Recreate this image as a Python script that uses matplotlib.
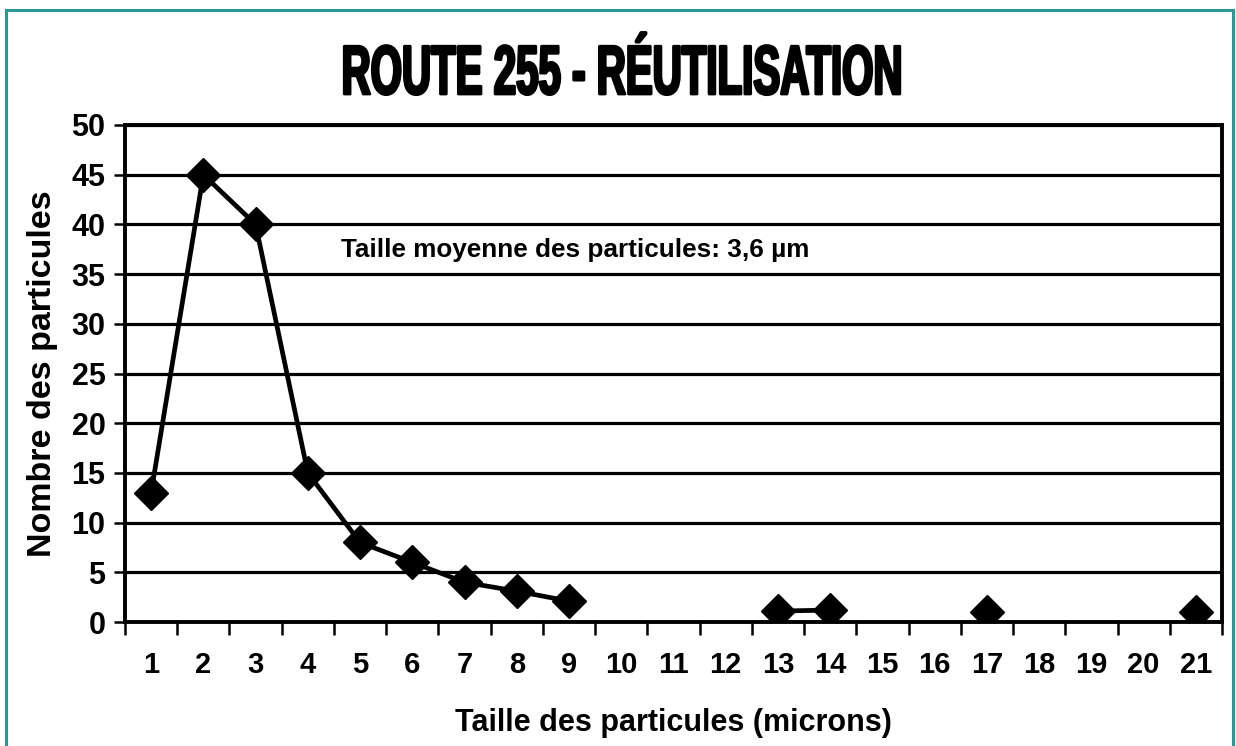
import numpy as np
import matplotlib
matplotlib.use("Agg")
from matplotlib import pyplot as plt
from matplotlib import patheffects
from matplotlib.patches import Rectangle
from matplotlib.transforms import Affine2D

# data
sizes = list(range(1, 22))
counts = [13, 45, 40, 15, 8, 6, 4.0, 3.1, 2.1, np.nan, np.nan, np.nan,
          1.1, 1.2, np.nan, np.nan, 1.0, np.nan, np.nan, np.nan, 1.0]
y_ticks = list(range(0, 51, 5))
title = "ROUTE 255 - RÉUTILISATION"
note = "Taille moyenne des particules: 3,6 µm"

W, H = 1236, 746
plt.rcParams['font.family'] = ['Liberation Sans', 'DejaVu Sans']


class Squeeze(patheffects.AbstractPathEffect):
    # draw the text narrower around a fixed x (display px) and a bit heavier
    def __init__(self, sx, cx, lw):
        super().__init__()
        self.sx, self.cx, self.lw = sx, cx, lw

    def draw_path(self, renderer, gc, tpath, affine, rgbFace=None):
        t = affine + Affine2D().translate(-self.cx, 0).scale(self.sx, 1).translate(self.cx, 0)
        gc0 = renderer.new_gc()
        gc0.copy_properties(gc)
        gc0.set_linewidth(self.lw)
        gc0.set_foreground("black")
        renderer.draw_path(gc0, tpath, t, rgbFace)
        gc0.restore()


fig = plt.figure(figsize=(W / 100, H / 100), dpi=100)
fig.patch.set_facecolor("white")

# teal frame around the figure
fig.patches.append(Rectangle((0.005, -0.05), 0.9925, 1.037, transform=fig.transFigure,
                             fill=False, edgecolor="#2a9893", linewidth=2.2))

ax = fig.add_axes([125 / W, 1 - 622 / H, 1097 / W, 497 / H])

ax.plot(sizes, counts, color="black", linewidth=3.4, marker="D", markersize=17,
        markerfacecolor="black", markeredgecolor="black", zorder=3)

ax.set_xlim(0.5, 21.5)
ax.set_ylim(0, 50)
ax.set_yticks(y_ticks)
ax.set_xticks(sizes)
ax.set_xticks(np.arange(0.5, 22, 1), minor=True)
ax.tick_params(axis="x", which="major", length=0, pad=21, labelsize=21)
ax.tick_params(axis="x", which="minor", length=9, width=1.8, direction="out")
ax.tick_params(axis="y", length=8, width=1.8, pad=6, labelsize=22)
for lab in ax.get_xticklabels() + ax.get_yticklabels():
    lab.set_fontweight("bold")

ax.grid(axis="y", color="black", linewidth=2.3)
ax.set_axisbelow(True)
for sp in ax.spines.values():
    sp.set_linewidth(2.8)

ax.set_xlabel("Taille des particules (microns)", fontsize=22, fontweight="bold", labelpad=21)
ax.set_ylabel("Nombre des particules", fontsize=24.5, fontweight="bold", labelpad=10)

ax.text(4.63, 37.4, note, fontsize=18.8, fontweight="bold", ha="left", va="center")

tx = 622 / W
fig.text(tx, 1 - 76 / H, title, fontsize=50, fontweight="bold", ha="center", va="center",
         path_effects=[Squeeze(0.58, tx * W, 2.0)])

fig.savefig("out.png", dpi=100)
